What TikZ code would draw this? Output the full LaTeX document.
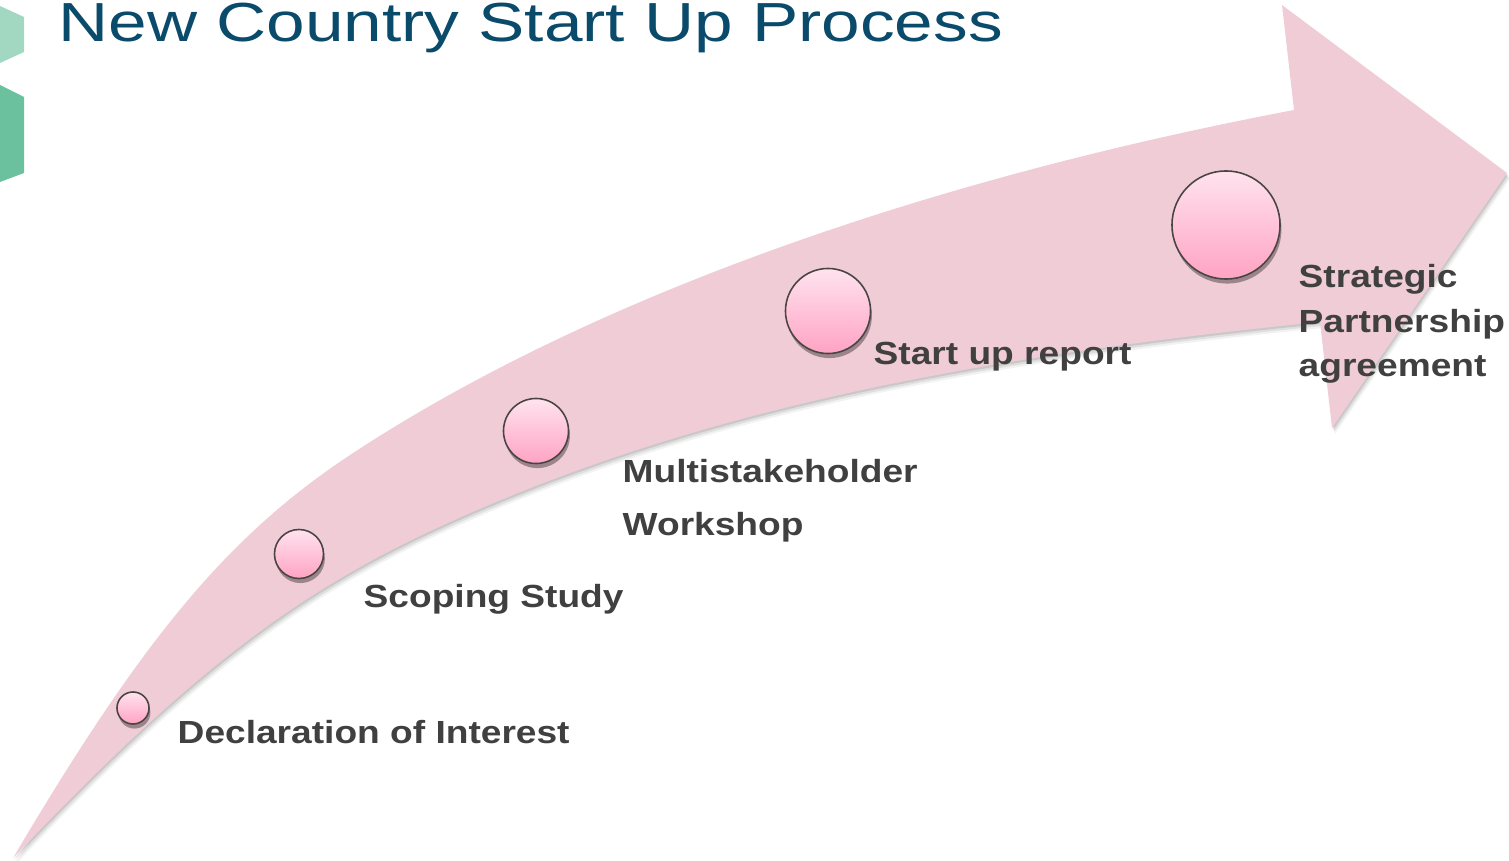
\documentclass[tikz,border=0pt]{standalone}
\usepackage{fontspec}
\setmainfont{Liberation Sans}
\usepackage{graphicx}
\usetikzlibrary{shadows}
\definecolor{arrowpink}{HTML}{F0CCD7}
\definecolor{balltop}{HTML}{FFE3EE}
\definecolor{ballbot}{HTML}{FFA3C3}
\definecolor{ballrim}{HTML}{4A4545}
\definecolor{lbltxt}{HTML}{404040}
\definecolor{ttltxt}{HTML}{0A4A6A}
\definecolor{hexlight}{HTML}{A2D8C2}
\definecolor{hexdark}{HTML}{6BC09E}
\newcommand\arrowshape[1]{%
  \fill[#1] (13,858) .. controls (143.5,637) and (228,536) .. (350,455)
    .. controls (579,304) and (909,183) .. (1294,110)
    -- (1282,5) -- (1507,173) -- (1332,428) -- (1320,322)
    .. controls (937,360) and (676,420) .. (450,522)
    .. controls (296,591) and (187,675) .. (13,858) -- cycle;}
\newcommand\wide[1]{\scalebox{1.16}[1]{#1}}
\begin{document}
\begin{tikzpicture}[x=0.01cm,y=-0.01cm,
  ball/.style={circle, draw=ballrim, line width=0.45pt, top color=balltop, bottom color=ballbot, inner sep=0pt,
    drop shadow={shadow xshift=0.4pt, shadow yshift=-1.3pt, opacity=0.35, fill=black}},
  lbl/.style={anchor=base west, inner sep=0pt, text=lbltxt, font=\fontsize{9.1pt}{11pt}\selectfont\bfseries},
  ttl/.style={anchor=base west, inner sep=0pt, text=ttltxt, font=\fontsize{15.65pt}{18pt}\selectfont}]
\useasboundingbox (0,0) rectangle (1509,861);
% hexagon fragments
\fill[hexlight] (0,6) -- (24,17) -- (24,52) -- (0,63) -- cycle;
\fill[hexdark] (0,85) -- (24,97) -- (24,173) -- (0,182) -- cycle;
% title
\node[ttl] (title) at (58,42) {\scalebox{1.26}[1]{New Country Start Up Process}};
% arrow with soft shadow
\begin{scope}[shift={(1,2)}]\arrowshape{black, opacity=0.10}\end{scope}
\begin{scope}[shift={(2,4)}]\arrowshape{black, opacity=0.08}\end{scope}
\begin{scope}[shift={(3,6)}]\arrowshape{black, opacity=0.05}\end{scope}
\arrowshape{arrowpink}
% milestones
\node[ball, minimum size=0.32cm] (c1) at (133,708) {};
\node[ball, minimum size=0.49cm] (c2) at (299,554) {};
\node[ball, minimum size=0.65cm] (c3) at (536,431) {};
\node[ball, minimum size=0.85cm] (c4) at (828,311) {};
\node[ball, minimum size=1.08cm] (c5) at (1226,225) {};
% labels
\node[lbl] (l1) at (177,743) {\wide{Declaration of Interest}};
\node[lbl] (l2) at (363,607) {\wide{Scoping Study}};
\node[lbl] (l3a) at (622,482) {\wide{Multistakeholder}};
\node[lbl] (l3b) at (622,535) {\wide{Workshop}};
\node[lbl] (l4) at (873,365) {\wide{Start up report}};
\node[lbl] (l5a) at (1298,288) {\wide{Strategic}};
\node[lbl] (l5b) at (1298,333) {\wide{Partnership}};
\node[lbl] (l5c) at (1298,377) {\wide{agreement}};
\end{tikzpicture}
\end{document}
